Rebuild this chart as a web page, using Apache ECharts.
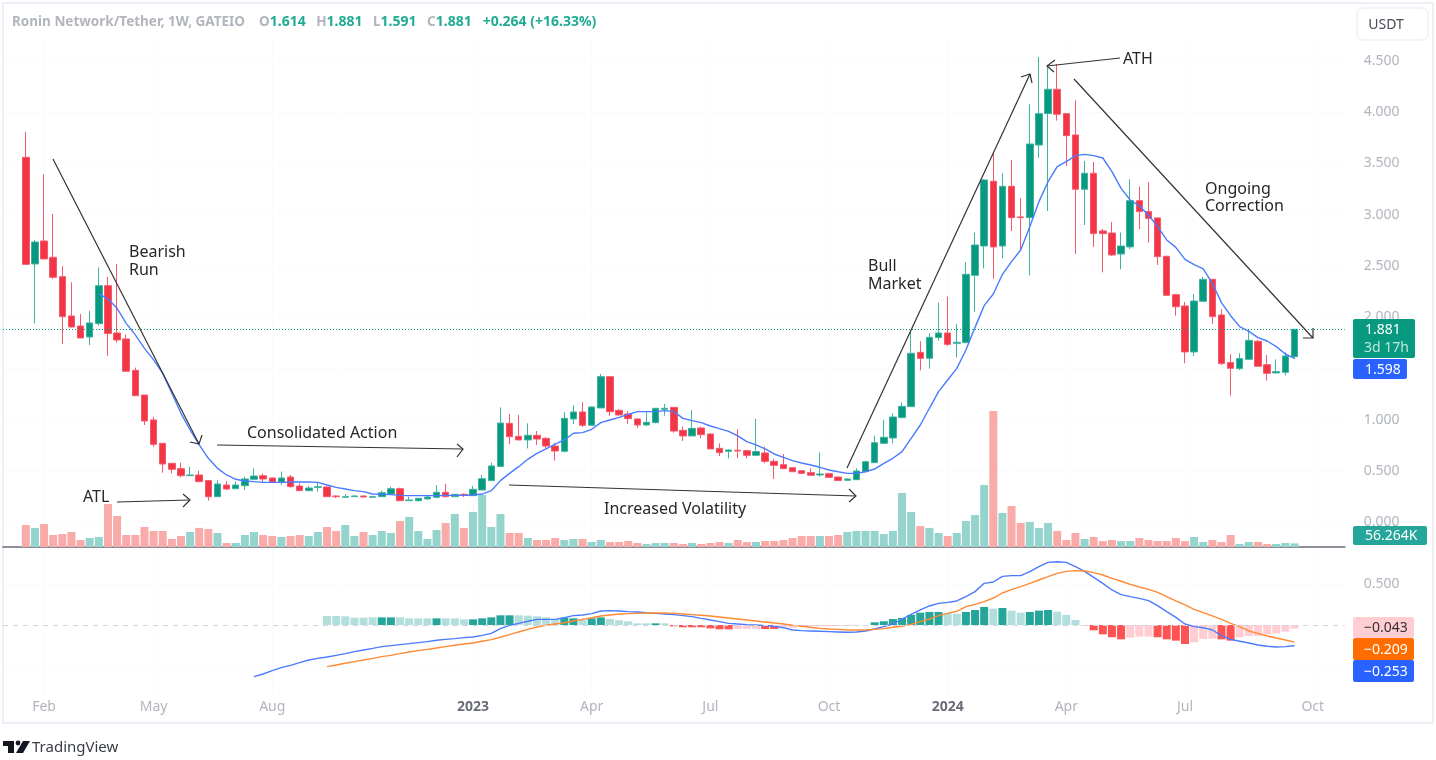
<!DOCTYPE html>
<html>
<head>
<meta charset="utf-8">
<title>Ronin Network/Tether</title>
<script src="https://cdn.jsdelivr.net/npm/echarts@6/dist/echarts.min.js"></script>
<style>
  html, body { margin: 0; padding: 0; background: #fff; overflow: hidden; }
  #chart { width: 1436px; height: 760px; }
</style>
</head>
<body>
<div id="chart"></div>
<script>
// weekly candles
const opens = [3.560,2.519,2.743,2.584,2.395,2.011,1.913,1.806,1.936,2.307,1.845,1.787,1.481,1.240,.996,.768,.573,.521,.452,.459,
  .404,.247,.361,.325,.355,.417,.452,.430,.390,.439,.351,.306,.338,.342,.254,.241,.247,.254,.241,.247,
  .273,.325,.208,.208,.225,.241,.290,.247,.270,.257,.312,.404,.543,.963,.836,.801,.846,.817,.742,.690,
  1.006,1.074,.944,1.113,1.419,1.090,1.054,1.006,.947,.970,1.100,1.119,.895,.840,.918,.859,.719,.690,.700,.696,
  .651,.674,.592,.560,.530,.501,.482,.459,.472,.439,.407,.413,.491,.579,.768,.820,1.019,1.126,1.656,1.598,
  1.800,1.845,1.744,1.751,2.408,2.694,3.326,2.694,3.277,2.978,2.971,3.680,3.986,4.224,3.986,3.778,3.248,3.404,2.841,2.821,
  2.616,2.685,3.137,3.030,2.968,2.594,2.219,2.109,1.660,2.154,2.369,2.021,1.556,1.497,1.588,1.764,1.536,1.455,1.461,1.614]
const closes = [2.515,2.733,2.568,2.389,2.005,1.904,1.796,1.943,2.307,1.839,1.777,1.471,1.233,.986,.758,.566,.514,.452,.459,.394,
  .247,.371,.322,.361,.420,.449,.420,.390,.430,.345,.306,.332,.345,.247,.247,.247,.254,.244,.247,.286,
  .325,.208,.215,.231,.244,.290,.247,.270,.260,.319,.423,.547,.966,.833,.801,.846,.810,.742,.693,1.012,
  1.074,.944,1.123,1.419,1.077,1.045,1.009,.947,.973,1.110,1.110,.888,.840,.914,.853,.713,.677,.703,.693,.651,
  .687,.592,.553,.521,.491,.475,.456,.469,.436,.404,.420,.498,.589,.774,.827,1.025,1.129,1.647,1.598,1.803,
  1.845,1.734,1.754,2.418,2.704,3.339,2.685,3.277,2.971,2.971,3.690,3.986,4.224,3.980,3.771,3.248,3.404,2.815,2.815,2.607,
  2.694,3.137,3.030,2.964,2.590,2.213,2.102,1.660,2.157,2.369,2.005,1.546,1.500,1.595,1.773,1.520,1.451,1.468,1.621,1.881]
const lows = [2.509,1.939,2.568,2.372,1.738,1.897,1.796,1.728,1.917,1.621,1.751,1.471,1.233,.947,.735,.482,.475,.436,.452,.394,
  .208,.247,.312,.325,.312,.417,.390,.384,.361,.335,.306,.306,.296,.247,.234,.238,.247,.238,.241,.247,
  .267,.208,.208,.198,.218,.231,.241,.247,.244,.254,.312,.404,.543,.761,.801,.719,.752,.719,.599,.680,
  .957,.927,.944,1.113,1.038,1.038,.957,.918,.937,.963,1.038,.872,.791,.840,.817,.713,.644,.622,.622,.622,
  .644,.573,.420,.521,.491,.469,.456,.443,.436,.404,.404,.410,.491,.579,.761,.768,1.012,1.126,1.481,1.497,
  1.770,1.718,1.608,1.745,2.053,2.476,2.375,2.574,2.841,2.646,2.408,3.553,3.036,3.918,3.475,2.616,2.899,2.685,2.437,2.597,
  2.467,2.665,2.860,2.727,2.509,2.213,2.014,1.549,1.621,2.154,1.933,1.533,1.233,1.484,1.582,1.520,1.380,1.451,1.429,1.591]
const highs = [3.807,2.753,3.394,3.007,2.496,2.340,2.031,2.060,2.486,2.395,2.519,1.832,1.507,1.240,1.025,.768,.573,.579,.540,.501,
  .410,.410,.400,.394,.443,.524,.475,.433,.491,.459,.377,.351,.387,.345,.260,.273,.260,.257,.257,.306,
  .345,.335,.247,.231,.257,.361,.371,.273,.280,.351,.459,.579,1.119,1.054,1.045,.963,.888,.827,.774,1.074,
  1.139,1.171,1.126,1.445,1.419,1.100,1.084,1.012,1.071,1.113,1.152,1.119,.931,1.093,.931,.866,.768,.709,.905,.703,
  1.006,.735,.618,.664,.530,.508,.524,.680,.482,.443,.426,.524,.599,.843,.996,1.061,1.168,1.874,1.764,1.842,
  2.141,2.200,1.933,2.535,2.825,3.345,3.599,3.404,3.534,3.160,4.077,4.539,4.462,4.471,3.986,4.117,3.524,3.514,2.860,2.929,
  2.825,3.345,3.274,3.316,2.974,2.594,2.226,2.148,2.226,2.395,2.369,2.076,1.637,1.647,1.881,1.777,1.630,1.588,1.656,1.881]

// 20 period line, starts at candle 8
const maStart = 8
const maValues = [2.226,2.177,2.086,1.939,1.826,1.695,1.582,1.451,1.256,1.061,.898,.752,.622,.524,.459,.417,.400,.394,.387,.387,.387,.390,.390,.390,.387,.361,.338,.322,.306,
  .296,.273,.270,.267,.260,.257,.257,.257,.257,.260,.260,.260,.264,.273,.306,.404,.475,.540,.612,.670,.713,.761,.801,.866,.872,.905,.970,.996,1.022,1.051,1.077,1.077,1.077,1.087,1.077,
  1.012,.989,.970,.937,.911,.885,.840,.784,.752,.713,.664,.631,.599,.576,.556,.534,.508,.491,.475,.475,.491,.517,.573,.622,.687,.817,.947,1.110,1.272,1.386,1.500,1.679,1.900,
  2.112,2.226,2.418,2.541,2.655,2.883,3.127,3.322,3.469,3.518,3.576,3.589,3.576,3.553,3.420,3.257,3.143,
  3.085,2.997,2.883,2.753,2.681,2.564,2.512,2.470,2.330,2.141,2.014,1.907,1.861,1.800,1.767,1.712,1.640,1.598]

// volume in thousands
const volumes = [345,298,360,188,204,235,110,141,157,673,
  485,188,188,313,251,251,125,172,235,298,
  282,219,63,63,188,235,188,172,157,172,
  188,172,235,313,251,345,172,235,188,251,
  219,407,470,251,125,266,376,517,298,548,
  814,313,517,219,219,141,110,110,141,110,
  125,125,78,110,78,78,94,63,47,63,
  63,63,47,63,47,63,78,63,110,78,
  78,94,94,110,141,172,172,172,172,188,
  235,251,251,251,204,251,846,548,329,298,
  219,172,219,407,501,971,2130,532,642,376,
  392,298,376,251,110,219,125,157,94,110,
  94,94,141,110,94,94,141,94,157,78,
  110,78,188,47,78,78,47,47,63,56.264]

// MACD pane
const macdStart = 25
const macdValues = [-.630,-.598,-.557,-.520,-.492,-.459,-.427,-.407,-.390,-.370,-.350,-.325,-.305,-.285,-.264,-.252,-.240,-.228,-.215,-.203,-.187,-.175,-.167,-.154,-.146,-.126,-.102,-.045,-.004,.020,.045,.069,.069,.069,.089,.114,.122,.138,.171,.175,.171,.163,.159,.150,.142,.134,.126,.114,.102,.081,.061,.041,.020,.012,.004,0,-.008,-.016,-.033,-.061,
  -.069,-.073,-.077,-.081,-.085,-.089,-.085,-.073,-.049,-.020,.012,.073,.130,.183,.232,.264,.276,.293,.346,.407,.508,.524,.593,.602,.602,.650,.711,.764,.772,.764,.711,.654,.581,.508,.427,.370,.346,.325,.297,.236,.163,.093,.012,-.020,-.033,-.061,-.130,-.175,-.199,-.220,-.244,-.260,-.268,-.264,-.253]
const signalStart = 33
const signalValues = [-.508,-.488,-.467,-.447,-.427,-.407,-.386,-.370,-.350,-.329,-.313,-.297,-.280,-.264,-.248,-.232,-.220,-.199,-.179,-.150,-.118,-.085,-.053,-.024,-.004,.012,.028,.049,.069,.089,.110,.122,.134,.138,.142,.146,.146,.146,.142,.134,.126,.118,.110,.098,.085,.073,.061,.049,.037,.024,.012,-.004,
  -.016,-.028,-.041,-.049,-.053,-.061,-.061,-.061,-.053,-.045,-.028,-.016,.008,.041,.073,.114,.142,.167,.224,.252,.285,.329,.390,.431,.467,.508,.549,.589,.630,.654,.663,.659,.638,.610,.569,.533,.496,.463,.435,.398,.346,.293,.244,.191,.150,.110,.069,.020,-.020,-.073,-.102,-.134,-.159,-.183,-.209]
const histValues = [.110,.110,.106,.089,.089,.093,.093,.093,.093,.081,.081,.081,.081,.081,.081,.069,.069,.081,.093,.118,.118,.118,.114,.106,.093,.073,.089,.081,.061,.081,.093,.073,.057,.045,.020,.020,.020,.020,
  -.016,-.028,-.028,-.028,-.041,-.053,-.053,-.049,-.049,-.049,-.049,-.049,-.033,-.033,
  -.012,-.012,-.016,-.016,-.012,-.012,-.008,-.004,
  .033,.045,.073,.085,.122,.150,.159,.159,.142,.138,.159,.183,.220,.199,.207,.175,.150,.159,.175,.183,.163,.122,.061,
  -.004,-.065,-.114,-.150,-.175,-.154,-.142,-.142,-.150,-.175,-.191,-.232,-.211,-.171,-.167,-.175,-.191,-.150,-.134,-.134,-.114,-.102,-.081,-.043]
// 1 = saturated bar, 0 = pale bar
const histStrong = [0,0,0,0,0,0,1,1,0,0,0,0,1,0,0,0,1,1,1,1,1,0,0,0,0,0,1,1,0,1,1,0,0,0,0,0,1,0,
  1,1,1,1,1,1,1,0,0,0,1,1,0,0,
  0,0,0,0,0,0,0,0,
  1,1,1,1,1,1,1,1,0,0,1,1,1,0,1,0,0,1,1,1,0,0,0,
  1,1,1,1,1,0,0,0,1,1,1,1,0,0,0,1,1,0,0,0,0,0,0,0]

const priceTicks = [0,.5,1,1.5,2,2.5,3,3.5,4,4.5]
const macdTicks = [-.5,.5]
const timeLabels = ['Feb','May','Aug','2023','Apr','Jul','Oct','2024','Apr','Jul','Oct']
const timeBars = [2,14,27,49,62,75,88,101,114,127,141]
const yearLabels = ['2023','2024']

const leftPad = 2
const rightPad = 5
const barCount = opens.length
const up = '#089981', down = '#f23645'

function pad(values, start) {
  const out = new Array(leftPad + barCount + rightPad).fill(null)
  values.forEach((v, i) => { out[leftPad + start + i] = v })
  return out
}

const categories = pad([], 0).map((_, i) => String(i))
const labelAt = {}
timeBars.forEach((b, i) => { labelAt[leftPad + b] = timeLabels[i] })

const candleData = pad(opens.map((o, i) => [o, closes[i], lows[i], highs[i]]), 0).map(d => d || ['-', '-', '-', '-'])
const volumeData = pad(volumes.map((v, i) => ({
  value: v,
  itemStyle: { color: closes[i] >= opens[i] ? '#95d4cd' : '#f9abaa' }
})), 0)
const histData = pad(histValues.map((v, i) => ({
  value: v,
  itemStyle: { color: v >= 0 ? (histStrong[i] ? '#26a69a' : '#b2dfdb') : (histStrong[i] ? '#ff5252' : '#ffcdd2') }
})), signalStart)

// drawn notes on the chart: pixel positions of the hand drawn lines
const noteFont = '"Noto Sans", sans-serif'
const noteArrows = [
  { line: [[53, 159], [199, 444]], head: [[190, 442], [199, 444], [202, 435]] },
  { line: [[117, 502], [190, 500]], head: [[183, 494], [190, 500], [183, 507]] },
  { line: [[217, 445], [463, 449]], head: [[457, 444], [463, 449], [457, 457]] },
  { line: [[509, 485], [856, 496]], head: [[849, 489], [856, 496], [849, 502]] },
  { line: [[847, 468], [1030, 74]], head: [[1021, 77], [1030, 74], [1032, 83]] },
  { line: [[1120, 58], [1047, 66]], head: [[1055, 60], [1047, 66], [1054, 72]] },
  { line: [[1074, 79], [1313, 338]], head: [[1303, 338], [1313, 338], [1313, 328]] }
]
const noteTexts = [
  { text: 'Bearish', x: 129, y: 252 }, { text: 'Run', x: 129, y: 270 },
  { text: 'ATL', x: 83, y: 497 },
  { text: 'Consolidated Action', x: 247, y: 433 },
  { text: 'Increased Volatility', x: 604, y: 509 },
  { text: 'Bull', x: 868, y: 266 }, { text: 'Market', x: 868, y: 284 },
  { text: 'ATH', x: 1123, y: 59 },
  { text: 'Ongoing', x: 1205, y: 189 }, { text: 'Correction', x: 1205, y: 206 }
]
const badges = [
  { x: 1353, y: 319, w: 62, h: 39, fill: up },
  { x: 1353, y: 359, w: 54, h: 20, fill: '#2962ff' },
  { x: 1353, y: 526, w: 74, h: 19, fill: '#26a69a' },
  { x: 1353, y: 617, w: 61, h: 21, fill: '#ffcdd2' },
  { x: 1353, y: 638, w: 61, h: 22, fill: '#ff6d00' },
  { x: 1353, y: 660, w: 61, h: 22, fill: '#2962ff' }
]
const badgeTexts = [
  { text: '1.881', x: 1365, y: 330, fill: '#fff' },
  { text: '3d 17h', x: 1364, y: 348, fill: '#bfe5de' },
  { text: '1.598', x: 1365, y: 370, fill: '#fff' },
  { text: '56.264K', x: 1365, y: 536, fill: '#fff' },
  { text: '\u22120.043', x: 1364, y: 628, fill: '#333' },
  { text: '\u22120.209', x: 1364, y: 650, fill: '#fff' },
  { text: '\u22120.253', x: 1364, y: 672, fill: '#fff' }
]

const labelFont = '"Noto Sans", sans-serif'
const graphics = [
  { type: 'rect', shape: { x: 3, y: 3, width: 1430, height: 720 }, style: { fill: 'none', stroke: '#eeeef7', lineWidth: 2 }, silent: true },
  { type: 'rect', shape: { x: 1357, y: 8, width: 71, height: 32, r: 6 }, style: { fill: '#fff', stroke: '#e8e9f0', lineWidth: 1 }, silent: true },
  { type: 'text', style: { text: 'USDT', x: 1386, y: 25, align: 'center', verticalAlign: 'middle', fill: '#4a4c55', font: '14px ' + labelFont } },
  // TradingView mark
  { type: 'polygon', shape: { points: [[3, 741], [14, 741], [14, 753], [8, 753], [8, 746], [3, 746]] }, style: { fill: '#131722' } },
  { type: 'circle', shape: { cx: 18, cy: 743, r: 2.4 }, style: { fill: '#131722' } },
  { type: 'polygon', shape: { points: [[23, 741], [30, 741], [23, 753], [16, 753]] }, style: { fill: '#131722' } },
  { type: 'text', style: { text: 'TradingView', x: 32, y: 748, verticalAlign: 'middle', fill: '#3a3d47', font: '15px ' + labelFont } }
]
noteArrows.forEach(a => {
  graphics.push({ type: 'polyline', z: 50, shape: { points: a.line }, style: { stroke: '#333', lineWidth: 1.2, fill: 'none' }, silent: true })
  graphics.push({ type: 'polyline', z: 50, shape: { points: a.head }, style: { stroke: '#333', lineWidth: 1.2, fill: 'none' }, silent: true })
})
noteTexts.forEach(t => {
  graphics.push({ type: 'text', z: 50, style: { text: t.text, x: t.x, y: t.y, verticalAlign: 'middle', fill: '#26272b', font: '16px ' + noteFont } })
})
badges.forEach(b => {
  graphics.push({ type: 'rect', z: 60, shape: { x: b.x, y: b.y, width: b.w, height: b.h, r: 2 }, style: { fill: b.fill }, silent: true })
})
badgeTexts.forEach(t => {
  graphics.push({ type: 'text', z: 61, style: { text: t.text, x: t.x, y: t.y, verticalAlign: 'middle', fill: t.fill, font: '14px ' + labelFont } })
})

const chart = echarts.init(document.getElementById('chart'))

chart.setOption({
  animation: false,
  backgroundColor: '#fff',
  title: {
    left: 12, top: 15, padding: 0,
    text: '{g|Ronin Network/Tether, 1W, GATEIO    O}{t|1.614}{g|   H}{t|1.881}{g|   L}{t|1.591}{g|   C}{t|1.881}{t|   +0.264 (+16.33%)}',
    textStyle: {
      rich: {
        g: { color: '#b2b5be', fontSize: 13.5, fontFamily: labelFont },
        t: { color: '#22ab94', fontSize: 14, fontFamily: labelFont }
      }
    }
  },
  grid: [
    { left: 3, right: 91.3, top: 36, height: 511 },
    { left: 3, right: 91.3, top: 548, height: 147 }
  ],
  xAxis: [
    {
      type: 'category', gridIndex: 0, data: categories,
      axisLine: { onZero: false, lineStyle: { color: '#8f919a', width: 2 } },
      axisTick: { show: false }, axisLabel: { show: false },
      splitLine: { show: true, alignWithLabel: true, interval: i => labelAt[i] !== undefined, lineStyle: { color: '#fafbfd' } }
    },
    {
      type: 'category', gridIndex: 1, data: categories,
      axisLine: { show: false }, axisTick: { show: false },
      splitLine: { show: true, alignWithLabel: true, interval: i => labelAt[i] !== undefined, lineStyle: { color: '#fafbfd' } },
      axisLabel: {
        interval: 0, margin: 5, hideOverlap: false,
        formatter: (v, i) => {
          const t = labelAt[i]
          if (t === undefined) return ''
          return yearLabels.includes(t) ? '{y|' + t + '}' : '{m|' + t + '}'
        },
        rich: {
          m: { color: '#b2b5be', fontSize: 14, fontFamily: labelFont },
          y: { color: '#6a6d78', fontSize: 14, fontWeight: 'bold', fontFamily: labelFont }
        }
      }
    }
  ],
  yAxis: [
    {
      type: 'value', gridIndex: 0, position: 'right', min: -0.244, max: 4.744,
      axisLine: { show: false },
      axisTick: { show: false, customValues: priceTicks },
      splitLine: { show: true, lineStyle: { color: '#fafbfd' } },
      axisLabel: { customValues: priceTicks, margin: 19, padding: [2, 0, 0, 0], color: '#b2b5be', fontSize: 14, fontFamily: labelFont, formatter: v => v.toFixed(3) }
    },
    {
      // volume overlay, no labels of its own
      type: 'value', gridIndex: 0, position: 'left', min: 0, max: 8000,
      axisLine: { show: false }, axisTick: { show: false }, axisLabel: { show: false }, splitLine: { show: false }
    },
    {
      type: 'value', gridIndex: 1, position: 'right', min: -0.854, max: 0.939,
      axisLine: { show: false },
      axisTick: { show: false, customValues: macdTicks },
      splitLine: { show: true, lineStyle: { color: '#fafbfd' } },
      axisLabel: { customValues: macdTicks, margin: 19, padding: [2, 0, 0, 0], color: '#b2b5be', fontSize: 14, fontFamily: labelFont, formatter: v => v.toFixed(3) }
    }
  ],
  series: [
    {
      name: 'Volume', type: 'bar', xAxisIndex: 0, yAxisIndex: 1, data: volumeData,
      barWidth: 8, z: 1, silent: true
    },
    {
      name: 'RON/USDT', type: 'candlestick', xAxisIndex: 0, yAxisIndex: 0, data: candleData,
      barWidth: 7, z: 3, silent: true,
      itemStyle: { color: up, color0: down, borderColor: '#3fb39f', borderColor0: '#f6596c', borderWidth: 1 },
      markLine: {
        silent: true, symbol: 'none', label: { show: false },
        lineStyle: { color: up, type: [1, 2], width: 1 },
        data: [{ yAxis: closes[barCount - 1] }]
      }
    },
    {
      name: 'MA', type: 'line', xAxisIndex: 0, yAxisIndex: 0, data: pad(maValues, maStart),
      showSymbol: false, z: 4, silent: true, lineStyle: { color: '#4a7bff', width: 1.4 }
    },
    {
      name: 'Histogram', type: 'bar', xAxisIndex: 1, yAxisIndex: 2, data: histData,
      barWidth: 8, z: 1, silent: true,
      markLine: {
        silent: true, symbol: 'none', label: { show: false },
        lineStyle: { color: '#d1d4dc', type: [5, 5], width: 1 },
        data: [{ yAxis: 0 }]
      }
    },
    {
      name: 'MACD', type: 'line', xAxisIndex: 1, yAxisIndex: 2, data: pad(macdValues, macdStart),
      showSymbol: false, z: 3, silent: true, lineStyle: { color: '#4a7bff', width: 1.4 }
    },
    {
      name: 'Signal', type: 'line', xAxisIndex: 1, yAxisIndex: 2, data: pad(signalValues, signalStart),
      showSymbol: false, z: 3, silent: true, lineStyle: { color: '#ff8a33', width: 1.4 }
    }
  ],
  graphic: graphics
})
</script>
</body>
</html>
